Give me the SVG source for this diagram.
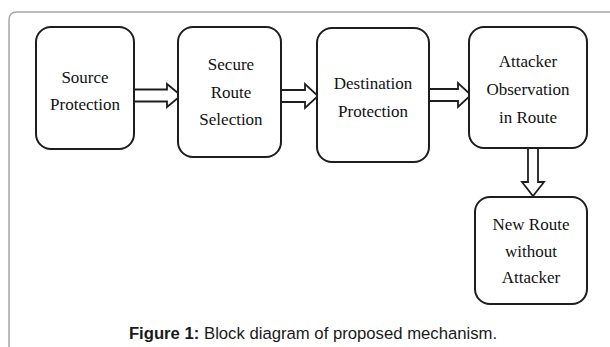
<svg xmlns="http://www.w3.org/2000/svg" width="610" height="347" viewBox="0 0 610 347">
  <style>
    .frame { fill: none; stroke: #a6a6a6; stroke-width: 1.5; }
    .box { fill: #ffffff; stroke: #1e1e1e; stroke-width: 2; }
    .lbl { font-family: "Liberation Serif", "Times New Roman", serif; font-size: 17px; fill: #111; text-anchor: middle; }
    .arrow { fill: #ffffff; stroke: #1e1e1e; stroke-width: 1.8; stroke-linejoin: miter; }
    .cap { font-family: "Liberation Sans", Arial, sans-serif; font-size: 16.7px; fill: #1a1a1a; text-anchor: middle; }
  </style>
  <rect width="610" height="347" fill="#ffffff"/>
  <!-- outer figure frame, open at the right and bottom -->
  <path class="frame" d="M9,347 V20 Q9,12 17,12 H610"/>

  <g id="connectors">
    <path class="arrow" d="M134,89.5 H167 V84 L181,95.5 L167,107 V101.5 H134"/>
    <path class="arrow" d="M281,90 H305 V84 L318,96 L305,108 V102 H281"/>
    <path class="arrow" d="M429,89 H458 V83 L471,95 L458,107 V101 H429"/>
    <path class="arrow" d="M528,149 V182 H522 L533,196 L544,182 H538 V149"/>
  </g>

  <g id="source-protection">
    <rect class="box" x="36" y="27" width="98" height="122" rx="15"/>
    <text class="lbl" x="85" y="83">Source</text>
    <text class="lbl" x="85" y="110">Protection</text>
  </g>
  <g id="secure-route-selection">
    <rect class="box" x="178" y="27" width="103" height="130" rx="15"/>
    <text class="lbl" x="231" y="70">Secure</text>
    <text class="lbl" x="231" y="98">Route</text>
    <text class="lbl" x="231" y="125">Selection</text>
  </g>
  <g id="destination-protection">
    <rect class="box" x="317" y="28" width="112" height="134" rx="15"/>
    <text class="lbl" x="373" y="89">Destination</text>
    <text class="lbl" x="373" y="117">Protection</text>
  </g>
  <g id="attacker-observation">
    <rect class="box" x="469" y="27" width="118" height="121" rx="15"/>
    <text class="lbl" x="528" y="67">Attacker</text>
    <text class="lbl" x="528" y="95">Observation</text>
    <text class="lbl" x="528" y="123">in Route</text>
  </g>
  <g id="new-route">
    <rect class="box" x="475" y="197" width="112" height="107" rx="15"/>
    <text class="lbl" x="531" y="230">New Route</text>
    <text class="lbl" x="531" y="257">without</text>
    <text class="lbl" x="531" y="283">Attacker</text>
  </g>

  <text class="cap" x="313" y="339"><tspan font-weight="bold">Figure 1:</tspan> Block diagram of proposed mechanism.</text>
</svg>
